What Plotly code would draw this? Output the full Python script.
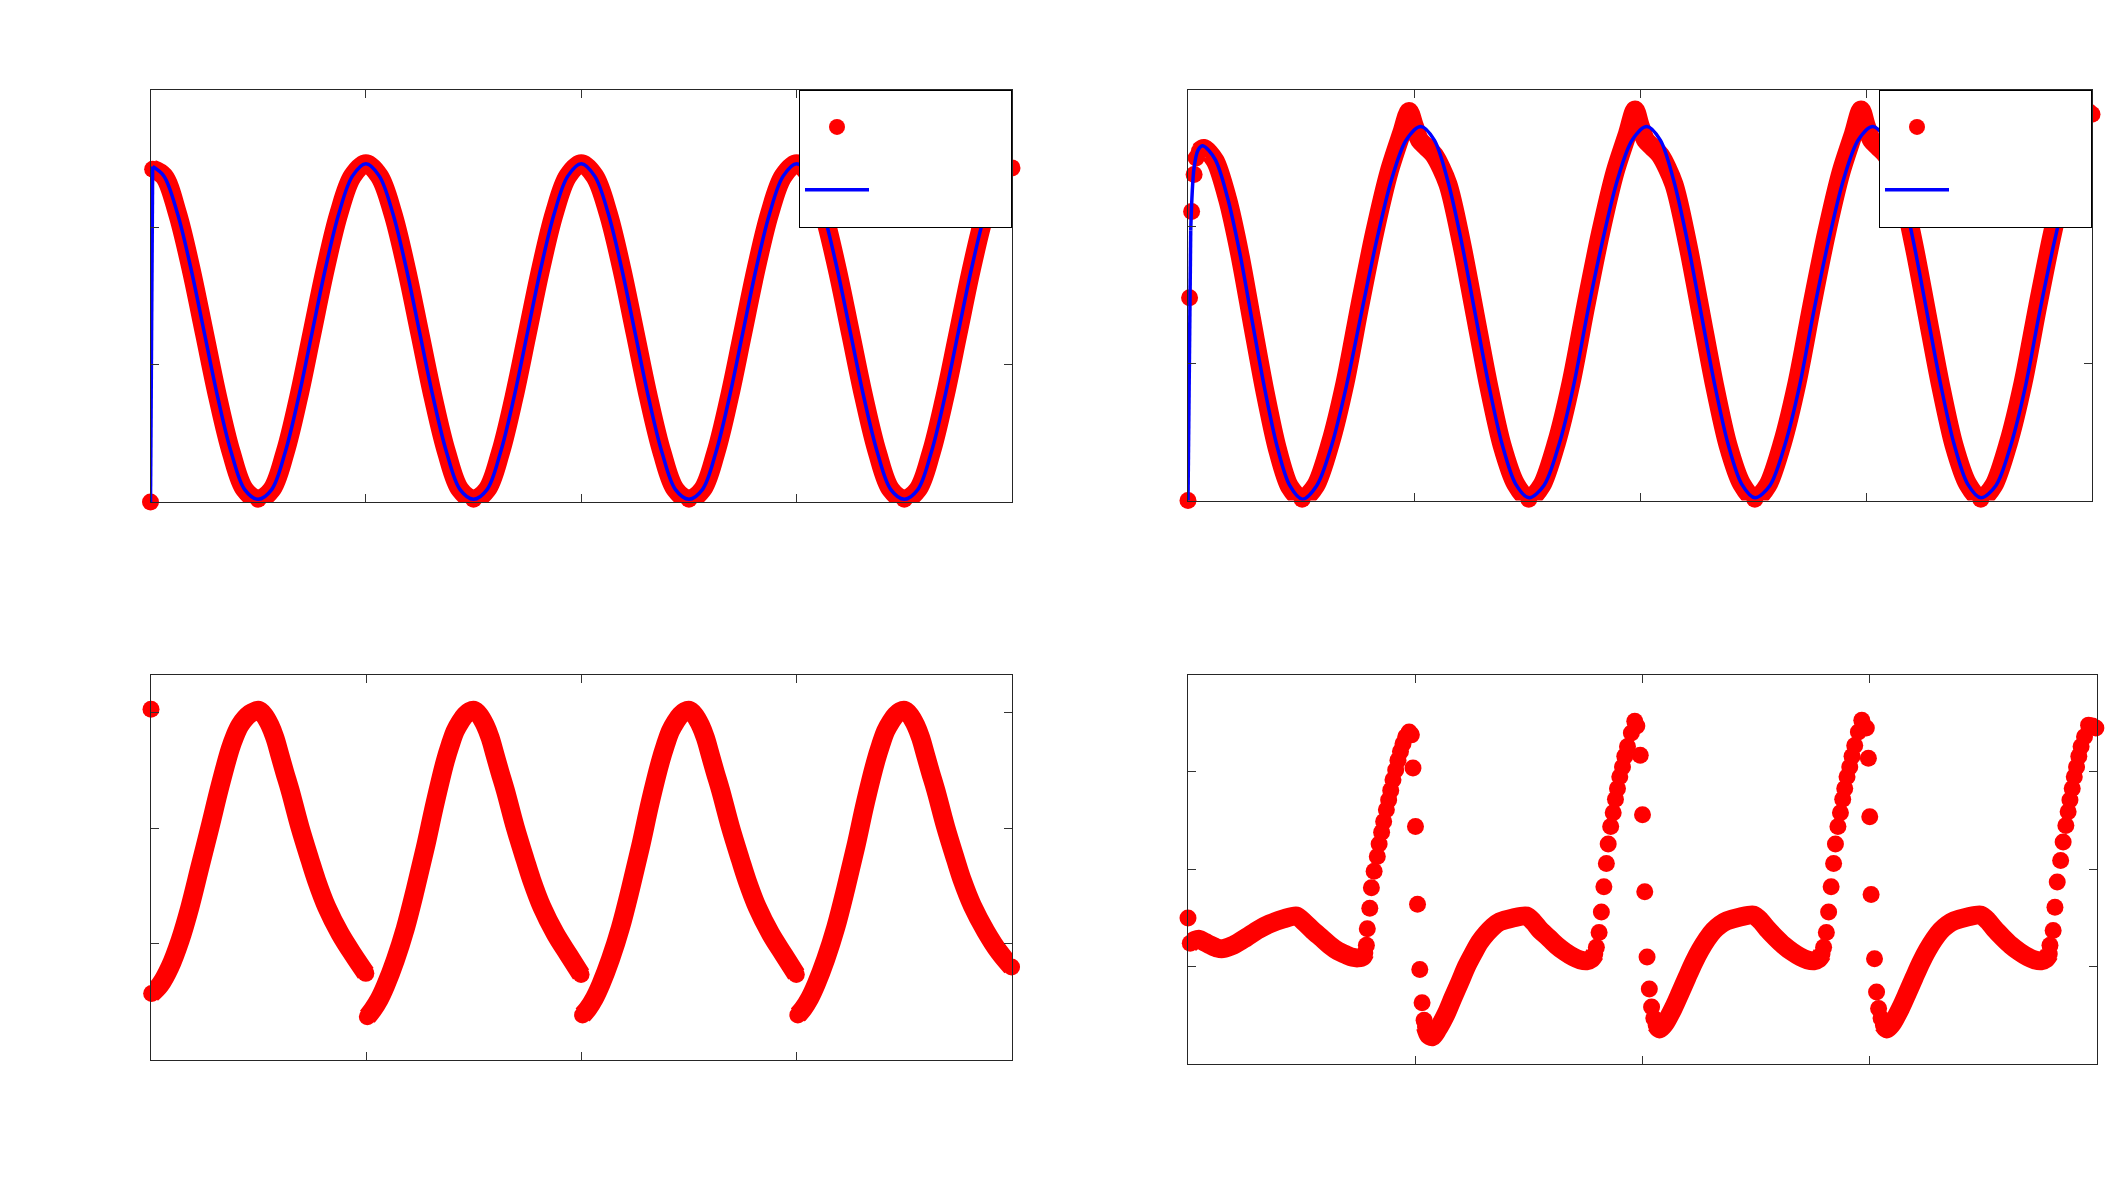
import plotly.graph_objects as go

RED = "#ff0000"
BLUE = "#0000ff"
NB = "\u00a0" * 11

# ---------------- Panel 1 (top-left) ----------------
p1_t = [0.0, 0.01,
        0.0625, 0.125, 0.1875, 0.25, 0.3125, 0.375, 0.4375, 0.5,
        0.5625, 0.625, 0.6875, 0.75, 0.8125, 0.875, 0.9375, 1.0,
        1.0625, 1.125, 1.1875, 1.25, 1.3125, 1.375, 1.4375, 1.5,
        1.5625, 1.625, 1.6875, 1.75, 1.8125, 1.875, 1.9375, 2.0,
        2.0625, 2.125, 2.1875, 2.25, 2.3125, 2.375, 2.4375, 2.5,
        2.5625, 2.625, 2.6875, 2.75, 2.8125, 2.875, 2.9375, 3.0,
        3.0625, 3.125, 3.1875, 3.25, 3.3125, 3.375, 3.4375, 3.5,
        3.5625, 3.625, 3.6875, 3.75, 3.8125, 3.875, 3.9375, 4.0]
p1_sim = [0.0, 2.42,
          2.37, 2.10, 1.70, 1.23, 0.76, 0.36, 0.09, 0.02,
          0.09, 0.36, 0.76, 1.23, 1.70, 2.10, 2.37, 2.46,
          2.37, 2.10, 1.70, 1.23, 0.76, 0.36, 0.09, 0.02,
          0.09, 0.36, 0.76, 1.23, 1.70, 2.10, 2.37, 2.46,
          2.37, 2.10, 1.70, 1.23, 0.76, 0.36, 0.09, 0.02,
          0.09, 0.36, 0.76, 1.23, 1.70, 2.10, 2.37, 2.46,
          2.37, 2.10, 1.70, 1.23, 0.76, 0.36, 0.09, 0.02,
          0.09, 0.36, 0.76, 1.23, 1.70, 2.10, 2.37, 2.43]
p1_fit = [0.0, 2.44,
          2.37, 2.10, 1.70, 1.23, 0.76, 0.36, 0.09, 0.02,
          0.09, 0.36, 0.76, 1.23, 1.70, 2.10, 2.37, 2.46,
          2.37, 2.10, 1.70, 1.23, 0.76, 0.36, 0.09, 0.02,
          0.09, 0.36, 0.76, 1.23, 1.70, 2.10, 2.37, 2.46,
          2.37, 2.10, 1.70, 1.23, 0.76, 0.36, 0.09, 0.02,
          0.09, 0.36, 0.76, 1.23, 1.70, 2.10, 2.37, 2.46,
          2.37, 2.10, 1.70, 1.23, 0.76, 0.36, 0.09, 0.02,
          0.09, 0.36, 0.76, 1.23, 1.70, 2.10, 2.37, 2.44]

# ---------------- Panel 2 (top-right) ----------------
p2_dots_t = [0.0, 0.007, 0.016, 0.027, 0.036]
p2_dots_v = [0.0, 1.48, 2.11, 2.38, 2.50]
p2_sim_t = [0.05, 0.07, 0.12, 0.175, 0.23, 0.285, 0.34, 0.395, 0.45, 0.505,
            0.565, 0.63, 0.695, 0.76, 0.825, 0.89, 0.945, 0.978, 1.0, 1.025, 1.055, 1.09,
            1.15, 1.21, 1.27, 1.33, 1.39, 1.45, 1.508,
            1.565, 1.63, 1.695, 1.76, 1.825, 1.89, 1.945, 1.978, 2.0, 2.025, 2.055, 2.09,
            2.15, 2.21, 2.27, 2.33, 2.39, 2.45, 2.508,
            2.565, 2.63, 2.695, 2.76, 2.825, 2.89, 2.945, 2.978, 3.0, 3.025, 3.055, 3.09,
            3.15, 3.21, 3.27, 3.33, 3.39, 3.45, 3.508,
            3.565, 3.63, 3.695, 3.76, 3.825, 3.89, 3.945, 3.985, 4.0]
p2_sim_v = [2.55, 2.57, 2.48, 2.20, 1.79, 1.29, 0.80, 0.38, 0.10, 0.01,
            0.11, 0.42, 0.86, 1.42, 1.95, 2.40, 2.68, 2.84, 2.74, 2.63, 2.58, 2.52,
            2.31, 1.88, 1.36, 0.84, 0.40, 0.12, 0.01,
            0.11, 0.42, 0.86, 1.42, 1.95, 2.40, 2.68, 2.85, 2.74, 2.63, 2.58, 2.52,
            2.31, 1.88, 1.36, 0.84, 0.40, 0.12, 0.01,
            0.11, 0.42, 0.86, 1.42, 1.95, 2.40, 2.68, 2.85, 2.74, 2.63, 2.58, 2.52,
            2.31, 1.88, 1.36, 0.84, 0.40, 0.12, 0.01,
            0.11, 0.42, 0.86, 1.42, 1.95, 2.40, 2.68, 2.84, 2.82]
p2_fit_t = [0.0, 0.012, 0.027, 0.045, 0.065, 0.12, 0.175, 0.23, 0.285, 0.34, 0.395, 0.45, 0.506,
            0.57, 0.635, 0.70, 0.77, 0.835, 0.90, 0.965, 1.03,
            1.09, 1.15, 1.21, 1.27, 1.33, 1.39, 1.45, 1.509,
            1.575, 1.64, 1.705, 1.77, 1.835, 1.90, 1.965, 2.03,
            2.09, 2.15, 2.21, 2.27, 2.33, 2.39, 2.45, 2.509,
            2.575, 2.64, 2.705, 2.77, 2.835, 2.90, 2.965, 3.03,
            3.09, 3.15, 3.21, 3.27, 3.33, 3.39, 3.45, 3.509,
            3.575, 3.64, 3.705, 3.77, 3.835, 3.90, 3.965, 4.0]
p2_fit_v = [0.0, 1.97, 2.43, 2.56, 2.59, 2.49, 2.21, 1.80, 1.30, 0.81, 0.39, 0.11, 0.01,
            0.11, 0.40, 0.83, 1.39, 1.90, 2.34, 2.63, 2.73,
            2.63, 2.33, 1.89, 1.37, 0.85, 0.41, 0.12, 0.02,
            0.11, 0.40, 0.83, 1.39, 1.90, 2.34, 2.63, 2.73,
            2.63, 2.33, 1.89, 1.37, 0.85, 0.41, 0.12, 0.02,
            0.11, 0.40, 0.83, 1.39, 1.90, 2.34, 2.63, 2.73,
            2.63, 2.33, 1.89, 1.37, 0.85, 0.41, 0.12, 0.02,
            0.11, 0.40, 0.83, 1.39, 1.90, 2.34, 2.63, 2.71]

# ---------------- Panel 3 (bottom-left) ----------------
p3_dots_t = [0.0]
p3_dots_v = [3.03]
p3_band_t = [0.003, 0.042, 0.088, 0.135, 0.181, 0.228, 0.274, 0.32, 0.367, 0.39, 0.413, 0.437, 0.46, 0.48, 0.5,
             0.525, 0.553, 0.576, 0.599, 0.622, 0.646, 0.692, 0.738, 0.769, 0.816, 0.878, 0.94, 0.998, None,
             1.005, 1.03, 1.06, 1.09, 1.135, 1.181, 1.228, 1.274, 1.32, 1.367, 1.39, 1.413, 1.437, 1.46, 1.48, 1.5,
             1.525, 1.553, 1.576, 1.599, 1.622, 1.646, 1.692, 1.738, 1.769, 1.816, 1.878, 1.94, 1.998, None,
             2.005, 2.03, 2.06, 2.09, 2.135, 2.181, 2.228, 2.274, 2.32, 2.367, 2.39, 2.413, 2.437, 2.46, 2.48, 2.5,
             2.525, 2.553, 2.576, 2.599, 2.622, 2.646, 2.692, 2.738, 2.769, 2.816, 2.878, 2.94, 2.998, None,
             3.005, 3.03, 3.06, 3.09, 3.135, 3.181, 3.228, 3.274, 3.32, 3.367, 3.39, 3.413, 3.437, 3.46, 3.48, 3.5,
             3.525, 3.553, 3.576, 3.599, 3.622, 3.646, 3.692, 3.738, 3.769, 3.816, 3.878, 3.94, 3.998]
p3_band_v = [0.57, 0.645, 0.80, 1.03, 1.32, 1.67, 2.01, 2.36, 2.68, 2.80, 2.89, 2.95, 2.99, 3.01, 3.02,
             2.98, 2.89, 2.78, 2.63, 2.48, 2.33, 2.01, 1.73, 1.55, 1.32, 1.09, 0.905, 0.745, None,
             0.37, 0.43, 0.52, 0.64, 0.86, 1.13, 1.47, 1.83, 2.22, 2.58, 2.72, 2.84, 2.92, 2.98, 3.01, 3.02,
             2.98, 2.89, 2.78, 2.63, 2.48, 2.33, 2.01, 1.73, 1.55, 1.32, 1.09, 0.905, 0.735, None,
             0.385, 0.44, 0.53, 0.65, 0.87, 1.14, 1.48, 1.84, 2.23, 2.58, 2.72, 2.84, 2.92, 2.98, 3.01, 3.02,
             2.98, 2.89, 2.78, 2.63, 2.48, 2.33, 2.01, 1.73, 1.55, 1.32, 1.09, 0.905, 0.735, None,
             0.385, 0.44, 0.53, 0.65, 0.87, 1.14, 1.48, 1.84, 2.23, 2.58, 2.72, 2.84, 2.92, 2.98, 3.01, 3.02,
             2.98, 2.89, 2.78, 2.63, 2.48, 2.33, 2.01, 1.73, 1.55, 1.33, 1.11, 0.93, 0.80]

# ---------------- Panel 4 (bottom-right) ----------------
p4_band_t = [0.01, 0.03, 0.05, 0.075, 0.10, 0.13, 0.154, 0.20, 0.257, 0.31, 0.36, 0.42, 0.477,
             0.51, 0.55, 0.59, 0.624, 0.66, 0.697, 0.725, 0.748, 0.768, 0.778, None,
             1.045, 1.058, 1.075, 1.10, 1.137, 1.166, 1.196, 1.225, 1.254, 1.283, 1.313, 1.342, 1.372,
             1.43, 1.489, 1.52, 1.548, 1.585, 1.621, 1.66, 1.695, 1.725, 1.754, 1.775, 1.79, None,
             2.06, 2.075, 2.10, 2.137, 2.166, 2.196, 2.225, 2.254, 2.283, 2.313, 2.342, 2.372,
             2.43, 2.489, 2.52, 2.548, 2.585, 2.621, 2.66, 2.695, 2.725, 2.754, 2.775, 2.79, None,
             3.06, 3.075, 3.10, 3.137, 3.166, 3.196, 3.225, 3.254, 3.283, 3.313, 3.342, 3.372,
             3.43, 3.489, 3.52, 3.548, 3.585, 3.621, 3.66, 3.695, 3.725, 3.754, 3.775, 3.79]
p4_band_v = [1.24, 1.27, 1.28, 1.25, 1.22, 1.19, 1.185, 1.22, 1.30, 1.38, 1.44, 1.49, 1.52,
             1.46, 1.37, 1.29, 1.22, 1.16, 1.12, 1.095, 1.09, 1.10, 1.14, None,
             0.38, 0.30, 0.28, 0.36, 0.52, 0.68, 0.84, 1.00, 1.13, 1.25, 1.34, 1.41, 1.46,
             1.50, 1.52, 1.46, 1.38, 1.30, 1.22, 1.15, 1.10, 1.07, 1.06, 1.08, 1.13, None,
             0.40, 0.36, 0.42, 0.58, 0.73, 0.89, 1.04, 1.17, 1.28, 1.37, 1.43, 1.47,
             1.51, 1.53, 1.47, 1.39, 1.30, 1.22, 1.15, 1.10, 1.07, 1.06, 1.08, 1.13, None,
             0.40, 0.36, 0.42, 0.58, 0.73, 0.89, 1.04, 1.17, 1.28, 1.37, 1.43, 1.47,
             1.51, 1.53, 1.47, 1.39, 1.30, 1.22, 1.15, 1.10, 1.07, 1.06, 1.08, 1.13]
p4_dots_t = [0.0,
             0.785, 0.789, 0.80, 0.807, 0.819, 0.833, 0.841, 0.852, 0.861, 0.873, 0.883, 0.892,
             0.902, 0.914, 0.924, 0.935, 0.946, 0.958, 0.973, 0.983, 0.99, 1.001, 1.010, 1.020,
             1.030, 1.039,
             1.797, 1.809, 1.819, 1.830, 1.841, 1.849, 1.860, 1.871, 1.881, 1.890, 1.900, 1.912,
             1.922, 1.934, 1.951, 1.966, 1.975, 1.99, 2.0, 2.01, 2.02, 2.03, 2.04, 2.05,
             2.797, 2.809, 2.819, 2.830, 2.841, 2.849, 2.860, 2.871, 2.881, 2.890, 2.900, 2.912,
             2.922, 2.934, 2.950, 2.965, 2.985, 2.994, 3.0, 3.006, 3.021, 3.03, 3.039, 3.05,
             3.793, 3.807, 3.815, 3.825, 3.84, 3.851, 3.863, 3.873, 3.881, 3.891, 3.90, 3.91,
             3.92, 3.93, 3.945, 3.963, 3.98, 3.995]
p4_dots_v = [1.50,
             1.22, 1.39, 1.60, 1.81, 1.98, 2.13, 2.26, 2.38, 2.49, 2.61, 2.71, 2.81,
             2.92, 3.02, 3.12, 3.21, 3.29, 3.36, 3.41, 3.38, 3.04, 2.44, 1.64, 0.97,
             0.63, 0.45,
             1.20, 1.35, 1.56, 1.82, 2.06, 2.26, 2.44, 2.58, 2.72, 2.83, 2.95, 3.05,
             3.16, 3.26, 3.40, 3.52, 3.47, 3.17, 2.56, 1.77, 1.10, 0.77, 0.585, 0.47,
             1.20, 1.35, 1.56, 1.82, 2.06, 2.26, 2.44, 2.58, 2.72, 2.83, 2.95, 3.05,
             3.16, 3.27, 3.41, 3.53, 3.45, 3.14, 2.54, 1.74, 1.08, 0.74, 0.57, 0.47,
             1.22, 1.37, 1.61, 1.87, 2.09, 2.28, 2.45, 2.59, 2.71, 2.83, 2.95, 3.05,
             3.16, 3.26, 3.36, 3.48, 3.47, 3.45]

MS = 17   # marker diameter
BW = 19   # width of the dense band of overlapping markers


def pts(t, v):
    tt = [a for a, b in zip(t, v) if a is not None and b is not None]
    vv = [b for a, b in zip(t, v) if a is not None and b is not None]
    return tt, vv


fig = go.Figure()


def band(t, v, xa, ya, smooth=1.0):
    fig.add_trace(go.Scatter(x=t, y=v, mode="lines", xaxis=xa, yaxis=ya,
                             line=dict(color=RED, width=BW, shape="spline", smoothing=smooth),
                             connectgaps=False, showlegend=False, cliponaxis=False,
                             hoverinfo="skip"))


def dots(t, v, xa, ya, legend=None):
    fig.add_trace(go.Scatter(x=t, y=v, mode="markers", xaxis=xa, yaxis=ya,
                             marker=dict(color=RED, size=MS, line=dict(width=0)),
                             name=NB, showlegend=legend is not None,
                             legend=legend or "legend", cliponaxis=False))


def fit(t, v, xa, ya, legend, smooth=1.0):
    # steep initial rise drawn straight, rest smooth
    fig.add_trace(go.Scatter(x=t[:2], y=v[:2], mode="lines", xaxis=xa, yaxis=ya,
                             line=dict(color=BLUE, width=3.5), showlegend=False,
                             cliponaxis=False))
    fig.add_trace(go.Scatter(x=t[1:], y=v[1:], mode="lines", xaxis=xa, yaxis=ya,
                             line=dict(color=BLUE, width=3.5, shape="spline", smoothing=smooth),
                             name=NB, legend=legend, showlegend=True, cliponaxis=False))


# Panel 1
band(p1_t[1:], p1_sim[1:], "x", "y")
t1, v1 = pts(p1_t, p1_sim)
dots(t1, v1, "x", "y", legend="legend")
fit(p1_t, p1_fit, "x", "y", "legend")

# Panel 2
band(p2_sim_t, p2_sim_v, "x2", "y2", smooth=0.8)
dots(p2_dots_t + p2_sim_t, p2_dots_v + p2_sim_v, "x2", "y2", legend="legend2")
fit(p2_fit_t, p2_fit_v, "x2", "y2", "legend2", smooth=0.9)

# Panel 3
band(p3_band_t, p3_band_v, "x3", "y3")
t3, v3 = pts(p3_band_t, p3_band_v)
dots(p3_dots_t + t3, p3_dots_v + v3, "x3", "y3")

# Panel 4
band(p4_band_t, p4_band_v, "x4", "y4", smooth=0.8)
t4, v4 = pts(p4_band_t, p4_band_v)
dots(p4_dots_t + t4, p4_dots_v + v4, "x4", "y4")

W, H = 2126, 1196
dom = {
    1: ([150.5, 1012], [89.5, 502]),
    2: ([1188, 2092], [89.5, 500.5]),
    3: ([151, 1012], [674.5, 1059.5]),
    4: ([1188, 2097], [674.5, 1064]),
}
yr = {1: [0, 3], 2: [0, 3], 3: [0, 3.33], 4: [0, 4]}

axstyle = dict(showline=True, linecolor="#262626", linewidth=1, mirror="ticks",
               ticks="inside", ticklen=8, tickcolor="#333333", tickwidth=1,
               showticklabels=False, showgrid=False, zeroline=False, fixedrange=True)

layout = dict(width=W, height=H, margin=dict(l=0, r=0, t=0, b=0), autosize=False,
              paper_bgcolor="white", plot_bgcolor="white",
              font=dict(family="Open Sans"), hovermode=False)
for k, (xd, yd) in dom.items():
    xs = "" if k == 1 else str(k)
    layout["xaxis" + xs] = dict(domain=[xd[0] / W, xd[1] / W], range=[0, 4],
                                tickvals=[1, 2, 3], anchor="y" + xs, **axstyle)
    layout["yaxis" + xs] = dict(domain=[1 - yd[1] / H, 1 - yd[0] / H], range=yr[k],
                                tickvals=[1, 2, 3], anchor="x" + xs, **axstyle)

leg = dict(bgcolor="white", bordercolor="#000000", borderwidth=1,
           font=dict(size=46, family="Open Sans"), itemwidth=64, itemsizing="trace",
           xanchor="right", yanchor="top", y=1 - 89.5 / H, tracegroupgap=0)
layout["legend"] = dict(leg, x=1012 / W)
layout["legend2"] = dict(leg, x=2092 / W)
fig.update_layout(**layout)

fig.write_html("out.html", config={"displayModeBar": False},
               post_script="document.body.style.margin='0';document.body.style.overflow='hidden';")
